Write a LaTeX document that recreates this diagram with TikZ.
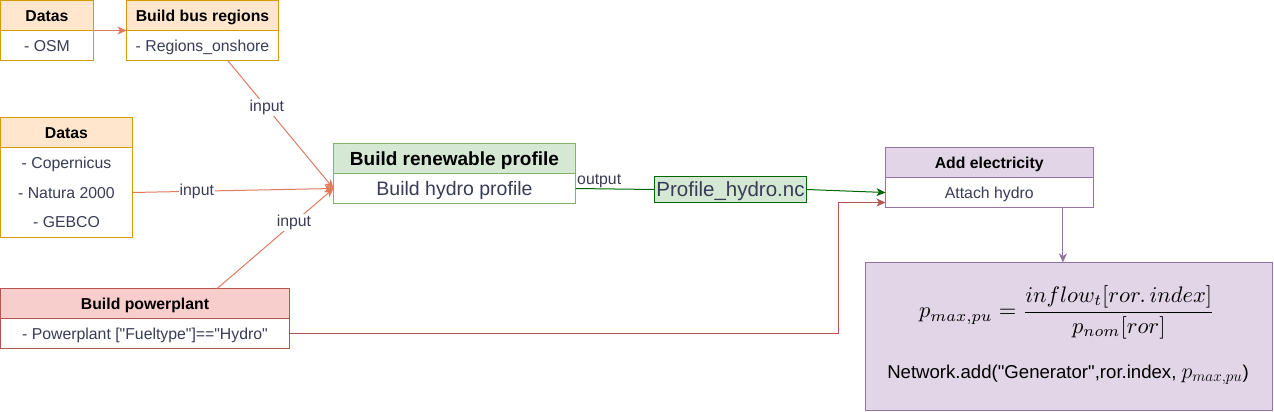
\documentclass[tikz,border=0pt]{standalone}
\usepackage{graphicx}
\usepackage{fontspec}
\setmainfont{Liberation Sans}[Ligatures=TeXOff]
\usetikzlibrary{arrows.meta,calc}
\definecolor{txt}{HTML}{393C56}
\definecolor{orF}{HTML}{FFE6CC}\definecolor{orD}{HTML}{D79B00}
\definecolor{grF}{HTML}{D5E8D4}\definecolor{grD}{HTML}{82B366}
\definecolor{rdF}{HTML}{F8CECC}\definecolor{rdD}{HTML}{B85450}
\definecolor{puF}{HTML}{E1D5E7}\definecolor{puD}{HTML}{9673A6}
\definecolor{dkG}{HTML}{006600}
\definecolor{salm}{HTML}{E07A5F}
\tikzset{
  base/.style={draw, line width=1pt, inner sep=0pt, outer sep=0pt, anchor=north west, align=center, minimum height=30pt},
  hdr/.style={base, text=black, font=\fontsize{15.8}{19}\selectfont\bfseries, text height=11.4pt, text depth=0pt},
  bdy/.style={base, fill=white, text=txt, font=\fontsize{15.8}{19}\selectfont, text height=11.4pt, text depth=0pt},
  bdym/.style={base, fill=white, text=txt, font=\fontsize{15.8}{29.5}\selectfont},
  lbl/.style={fill=white, inner sep=1pt, text=txt, font=\fontsize{15.8}{19}\selectfont},
  sedge/.style={draw=salm, line width=1pt, ->},
  gedge/.style={draw=dkG, line width=1pt},
  redge/.style={draw=rdD, line width=1pt, ->},
  pedge/.style={draw=puD, line width=1pt, ->},
}
\begin{document}
\begin{tikzpicture}[x=1pt,y=-1pt,>={Stealth[length=9pt,width=8pt,inset=2.5pt]}]
\useasboundingbox (0,0) rectangle (1274,412);
% Datas (OSM)
\node[hdr, fill=orF, draw=orD, minimum width=93pt] (dAh) at (0.5,0.5) {Datas};
\node[bdy, draw=orD, minimum width=93pt] (dAb) at (0.5,30.5) {- OSM};
% Build bus regions
\node[hdr, fill=orF, draw=orD, minimum width=152pt] (bRh) at (126.5,0.5) {Build bus regions};
\node[bdy, draw=orD, minimum width=152pt] (bRb) at (126.5,30.5) {- Regions\_onshore};
% Datas (Copernicus...)
\node[hdr, fill=orF, draw=orD, minimum width=132pt] (dBh) at (0.5,117.5) {Datas};
\node[bdym, draw=orD, minimum width=132pt, minimum height=90pt] (dBb) at (0.5,147.5) {- Copernicus\\- Natura 2000\\- GEBCO};
% Build renewable profile
\node[hdr, fill=grF, draw=grD, minimum width=242pt, font=\fontsize{19}{22}\selectfont\bfseries, text height=13.6pt] (rnh) at (333.5,143.5) {Build renewable profile};
\node[bdy, draw=grD, minimum width=242pt, font=\fontsize{19.5}{23}\selectfont, text height=14pt] (rnb) at (333.5,173.5) {Build hydro profile};
% Build powerplant
\node[hdr, fill=rdF, draw=rdD, minimum width=289pt] (pph) at (0.5,288.5) {Build powerplant};
\node[bdy, draw=rdD, minimum width=289pt] (ppb) at (0.5,318.5) {- Powerplant ["Fueltype"]=="Hydro"};
% Profile_hydro.nc
\node[base, fill=grF, draw=dkG, minimum width=152pt, minimum height=26pt, text=txt, font=\fontsize{20.5}{24}\selectfont, text height=14.7pt, text depth=0pt] (prof) at (654.5,176.5) {Profile\_hydro.nc};
% Add electricity
\node[hdr, fill=puF, draw=puD, minimum width=207.5pt] (aeh) at (885.5,147.5) {Add electricity};
\node[bdy, draw=puD, minimum width=207.5pt] (aeb) at (885.5,177.5) {Attach hydro};
% Formula box
\node[base, fill=puF, draw=puD, minimum width=407pt, minimum height=147.5pt] (fbox) at (865.5,262.5) {};
\node[text=black, inner sep=0pt] (eq) at (1067,312.3) {\scalebox{2.25}{$\displaystyle p_{max,pu} = \frac{inflow_t[ror.\,index]}{p_{nom}[ror]}$}};
\node[text=black, inner sep=0pt, font=\fontsize{18.6}{22}\selectfont] (net) at (1068,375) {Network.add("Generator",ror.index, \scalebox{1.27}{$p_{max,pu}$})};
% Edges
\draw[sedge] (dAh.south east) -- (bRh.south west);
\draw[sedge] ($(bRb.south west)!0.666!(bRb.south east)$) -- node[lbl, pos=0.37] {input} (rnb.west);
\draw[sedge] (dBb.east) -- node[lbl, pos=0.32] {input} (rnb.west);
\draw[sedge] ($(pph.north west)!0.75!(pph.north east)$) -- node[lbl, pos=0.66] {input} (rnb.west);
\draw[gedge] (rnb.east) -- node[lbl, fill=none, above, pos=0.3] {output} (prof.west);
\draw[gedge, ->] (prof.east) -- (aeb.west);
\draw[redge] (ppb.east) -| ($(aeb.west)+(-47,10)$) -- ($(aeb.west)+(0,10)$);
\coordinate (ae8) at ($(aeb.south west)!0.855!(aeb.south east)$);
\draw[pedge] (ae8) -- (ae8 |- fbox.north);
\end{tikzpicture}
\end{document}
